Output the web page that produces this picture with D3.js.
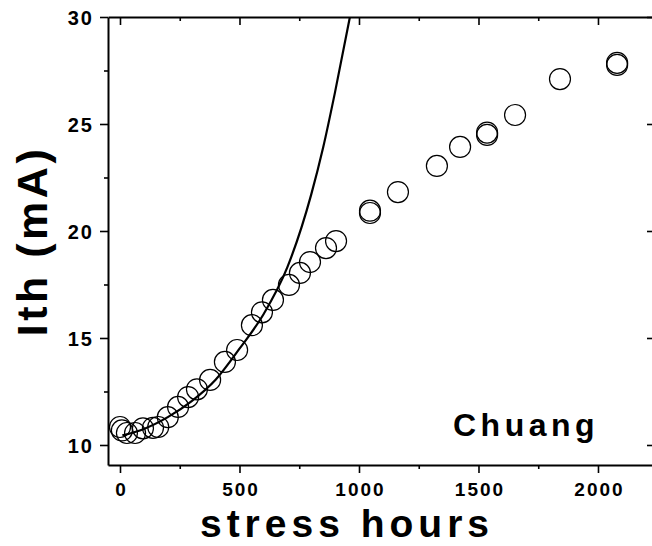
<!DOCTYPE html>
<html>
<head>
<meta charset="utf-8">
<script src="https://cdn.jsdelivr.net/npm/d3@7"></script>
<style>
  html, body { margin: 0; padding: 0; background: #fff; }
  svg { display: block; }
  text { font-family: "Liberation Sans", Arial, Helvetica, sans-serif; font-weight: bold; fill: #000; }
</style>
</head>
<body>
<svg id="chart" width="652" height="546"></svg>
<script>
// ---- data ----
const hours = [0, 8, 29, 63, 96, 138, 160, 200, 243, 285, 322, 377, 439, 490, 552, 594, 640, 707, 753, 795, 862, 904, 1046, 1046, 1163, 1326, 1423, 1536, 1536, 1653, 1841, 2080, 2080];
const ith   = [10.84, 10.68, 10.56, 10.56, 10.78, 10.8, 10.84, 11.3, 11.78, 12.24, 12.6, 13.04, 13.88, 14.44, 15.6, 16.2, 16.78, 17.48, 18.04, 18.55, 19.2, 19.53, 20.84, 20.95, 21.82, 23.04, 23.93, 24.49, 24.6, 25.42, 27.1, 27.76, 27.86];
// fitted curve
const fitHours = [10, 100, 200, 300, 400, 500, 600, 700, 800, 850, 900, 962];
const fitIth   = [10.45, 10.75, 11.3, 12.05, 13.05, 14.5, 16.1, 18.3, 21.7, 23.9, 26.5, 30];
// ticks
const xMajor = [0, 500, 1000, 1500, 2000];
const xMinor = [250, 750, 1250, 1750];
const yMajor = [10, 15, 20, 25, 30];
const yMinor = [12.5, 17.5, 22.5, 27.5];
const xTitle = "stress hours";
const yTitle = "Ith (mA)";
const note = "Chuang";

const svg = d3.select("#chart");
const L = 108, R = 653, T = 17, B = 465;
const x = d3.scaleLinear().domain([-50.2, 2230.2]).range([L, R]);
const y = d3.scaleLinear().domain([9.065, 30]).range([B, T]);

function styleAxis(g, showText) {
  g.select(".domain").attr("stroke", "#000").attr("stroke-width", 2);
  g.selectAll(".tick line").attr("stroke", "#000").attr("stroke-width", 1.6);
  if (!showText) g.selectAll(".tick text").remove();
  g.selectAll(".tick text").attr("font-family", null).attr("font-size", null);
}

// bottom axis
const gb = svg.append("g").attr("transform", `translate(0,${B})`)
  .call(d3.axisBottom(x).tickValues(xMajor).tickSize(8).tickSizeOuter(0).tickFormat(d3.format("d")));
styleAxis(gb, true);
gb.selectAll(".tick text").attr("y", 18).attr("dy", "0.71em").attr("dx", 1)
  .style("font-size", "19px").style("letter-spacing", "2px");
const gbm = svg.append("g").attr("transform", `translate(0,${B})`)
  .call(d3.axisBottom(x).tickValues(xMinor).tickSize(4).tickSizeOuter(0));
styleAxis(gbm, false); gbm.select(".domain").remove();

// top axis (ticks inward)
const gt = svg.append("g").attr("transform", `translate(0,${T})`)
  .call(d3.axisBottom(x).tickValues(xMajor).tickSize(8).tickSizeOuter(0));
styleAxis(gt, false);
const gtm = svg.append("g").attr("transform", `translate(0,${T})`)
  .call(d3.axisBottom(x).tickValues(xMinor).tickSize(4).tickSizeOuter(0));
styleAxis(gtm, false); gtm.select(".domain").remove();

// left axis
const gl = svg.append("g").attr("transform", `translate(${L},0)`)
  .call(d3.axisLeft(y).tickValues(yMajor).tickSize(8).tickSizeOuter(0).tickFormat(d3.format("d")));
styleAxis(gl, true);
gl.selectAll(".tick text").attr("x", -14).attr("dy", "0.36em")
  .style("font-size", "20px").style("letter-spacing", "2px");
const glm = svg.append("g").attr("transform", `translate(${L},0)`)
  .call(d3.axisLeft(y).tickValues(yMinor).tickSize(4).tickSizeOuter(0));
styleAxis(glm, false); glm.select(".domain").remove();

// right axis (ticks inward)
const gr = svg.append("g").attr("transform", `translate(${R},0)`)
  .call(d3.axisLeft(y).tickValues(yMajor).tickSize(6).tickSizeOuter(0));
styleAxis(gr, false);

// clip
svg.append("clipPath").attr("id", "clip").append("rect")
  .attr("x", L).attr("y", T).attr("width", R - L).attr("height", B - T);

// fitted curve
const fit = fitHours.map((h, i) => [h, fitIth[i]]);
svg.append("path").datum(fit)
  .attr("clip-path", "url(#clip)")
  .attr("fill", "none").attr("stroke", "#000").attr("stroke-width", 2.2)
  .attr("d", d3.line().x(d => x(d[0])).y(d => y(d[1])).curve(d3.curveMonotoneX));

// points
const pts = hours.map((h, i) => [h, ith[i]]);
svg.append("g").selectAll("circle").data(pts).join("circle")
  .attr("cx", d => x(d[0])).attr("cy", d => y(d[1])).attr("r", 10.5)
  .attr("fill", "none").attr("stroke", "#000").attr("stroke-width", 1.2);

// titles
svg.append("text").attr("x", 347).attr("y", 537).attr("text-anchor", "middle")
  .style("font-size", "39px").style("letter-spacing", "5px").text(xTitle);
svg.append("text").attr("transform", "translate(47,241) rotate(-90)").attr("text-anchor", "middle")
  .style("font-size", "43px").style("letter-spacing", "3.5px").text(yTitle);
svg.append("text").attr("x", 453).attr("y", 436)
  .style("font-size", "32px").style("letter-spacing", "4.5px").text(note);
</script>
</body>
</html>
